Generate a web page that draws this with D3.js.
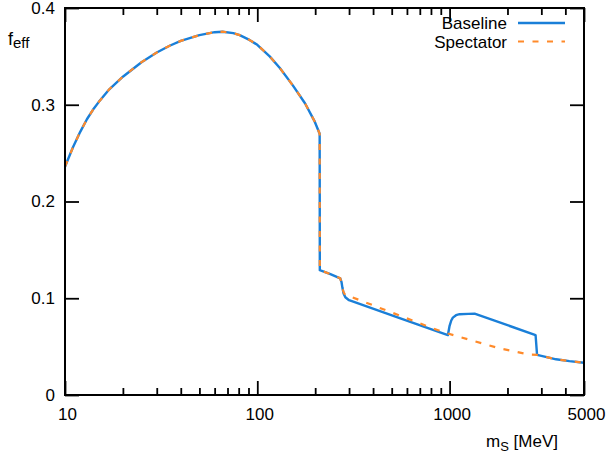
<!DOCTYPE html>
<html>
<head>
<meta charset="utf-8">
<script src="https://cdn.jsdelivr.net/npm/d3@7"></script>
<style>
  html, body { margin: 0; padding: 0; background: #fff; }
  svg { display: block; font-family: "Liberation Sans", Arial, Helvetica, sans-serif; }
</style>
</head>
<body>
<svg id="chart" width="608" height="458"></svg>
<script>
// ---- data ----
const baselineMass = [10, 11, 12, 13, 14, 15, 17, 20, 25, 30, 35, 40, 50, 60, 66, 75, 81, 91, 100, 116, 131, 153, 177, 199, 211, 211.4, 240, 270, 274, 277, 281, 287, 300, 550, 980, 1000, 1020, 1040, 1080, 1127, 1250, 1349, 2800, 2850, 3200, 3580, 4200, 5000];
const baselineFeff = [0.236, 0.256, 0.272, 0.285, 0.295, 0.303, 0.316, 0.329, 0.344, 0.354, 0.361, 0.366, 0.372, 0.375, 0.3755, 0.374, 0.372, 0.367, 0.362, 0.350, 0.338, 0.320, 0.3015, 0.2825, 0.270, 0.129, 0.125, 0.1206, 0.117, 0.111, 0.105, 0.101, 0.098, 0.0795, 0.062, 0.0715, 0.0770, 0.0800, 0.0825, 0.0835, 0.0838, 0.0840, 0.062, 0.0415, 0.0392, 0.0369, 0.0350, 0.0334];

const spectatorMass = [10, 11, 12, 13, 14, 15, 17, 20, 25, 30, 35, 40, 50, 60, 66, 75, 81, 91, 100, 116, 131, 153, 177, 199, 211, 211.4, 240, 270, 275, 280, 288, 310, 817, 980, 1820, 2604, 2850, 3200, 3580, 4200, 5000];
const spectatorFeff = [0.236, 0.256, 0.272, 0.285, 0.295, 0.303, 0.316, 0.329, 0.344, 0.354, 0.361, 0.366, 0.372, 0.375, 0.3755, 0.374, 0.372, 0.367, 0.362, 0.350, 0.338, 0.320, 0.3015, 0.2825, 0.270, 0.129, 0.125, 0.1206, 0.114, 0.107, 0.1025, 0.1012, 0.0689, 0.0635, 0.0482, 0.0418, 0.0415, 0.0392, 0.0369, 0.0350, 0.0334];

const seriesNames = ["Baseline", "Spectator"];
const xMajorTicks = [10, 100, 1000, 5000];
const xTickLabels = ["10", "100", "1000", "5000"];
const xMinorTicks = [20, 30, 40, 50, 60, 70, 80, 90, 200, 300, 400, 500, 600, 700, 800, 900, 2000, 3000, 4000];
const yTicks = [0, 0.1, 0.2, 0.3, 0.4];
const yTickLabels = ["0", "0.1", "0.2", "0.3", "0.4"];

// ---- layout ----
const svg = d3.select("#chart");
const L = 65, R = 584, T = 8, B = 395;
const blue = "#1a7fd8", orange = "#ff8a2a";

const x = d3.scaleLog().domain([10, 5000]).range([L, R]);
const y = d3.scaleLinear().domain([0, 0.4]).range([B, T]);

svg.append("defs").append("clipPath").attr("id", "clip")
  .append("rect").attr("x", L).attr("y", T).attr("width", R - L).attr("height", B - T);

const line = d3.line().x(d => x(d[0])).y(d => y(d[1]));
const baseData = baselineMass.map((m, i) => [m, baselineFeff[i]]);
const specData = spectatorMass.map((m, i) => [m, spectatorFeff[i]]);

const plot = svg.append("g").attr("clip-path", "url(#clip)");
plot.append("path").datum(baseData).attr("d", line)
  .attr("fill", "none").attr("stroke", blue).attr("stroke-width", 2.4)
  .attr("stroke-linejoin", "round");
plot.append("path").datum(specData).attr("d", line)
  .attr("fill", "none").attr("stroke", orange).attr("stroke-width", 2.2)
  .attr("stroke-dasharray", "6,8.5");

// ---- axes ----
function styleAxis(g) {
  g.select(".domain").remove();
  g.selectAll(".tick line").attr("stroke", "#000").attr("stroke-width", 1.8);
  g.selectAll(".tick text").attr("fill", "#000").attr("font-size", 17)
    .attr("font-family", "Liberation Sans, Arial, sans-serif");
}

svg.append("g").attr("transform", `translate(0,${B})`)
  .call(d3.axisBottom(x).tickValues(xMajorTicks).tickSize(-14).tickPadding(13)
    .tickFormat((d, i) => xTickLabels[i]))
  .call(styleAxis)
  .call(g => g.selectAll(".tick text").attr("dx", 2));
svg.append("g").attr("transform", `translate(0,${B})`)
  .call(d3.axisBottom(x).tickValues(xMinorTicks).tickSize(-7).tickFormat(""))
  .call(styleAxis);
svg.append("g").attr("transform", `translate(0,${T})`)
  .call(d3.axisTop(x).tickValues(xMajorTicks).tickSize(-14).tickFormat(""))
  .call(styleAxis);
svg.append("g").attr("transform", `translate(0,${T})`)
  .call(d3.axisTop(x).tickValues(xMinorTicks).tickSize(-7).tickFormat(""))
  .call(styleAxis);
svg.append("g").attr("transform", `translate(${L},0)`)
  .call(d3.axisLeft(y).tickValues(yTicks).tickSize(-14).tickPadding(10)
    .tickFormat((d, i) => yTickLabels[i]))
  .call(styleAxis);
svg.append("g").attr("transform", `translate(${R},0)`)
  .call(d3.axisRight(y).tickValues(yTicks).tickSize(-14).tickFormat(""))
  .call(styleAxis);

svg.append("rect").attr("x", L).attr("y", T).attr("width", R - L).attr("height", B - T)
  .attr("fill", "none").attr("stroke", "#000").attr("stroke-width", 2);

// ---- axis titles ----
const yl = svg.append("text").attr("x", 8).attr("y", 45).attr("font-size", 18).attr("fill", "#000");
yl.append("tspan").text("f");
yl.append("tspan").attr("dy", 3).attr("font-size", 15).text("eff");

const xl = svg.append("text").attr("x", 486).attr("y", 447).attr("font-size", 17).attr("fill", "#000");
xl.append("tspan").text("m");
xl.append("tspan").attr("dy", 4).attr("font-size", 13).text("S");
xl.append("tspan").attr("dy", -4).text(" [MeV]");

// ---- legend ----
const legend = svg.append("g");
const legY = [29, 47.5];
const legStyle = [{c: blue, w: 2.4, dash: null}, {c: orange, w: 2.2, dash: "6,8.5"}];
seriesNames.forEach((name, i) => {
  legend.append("text").attr("x", 507).attr("y", legY[i]).attr("text-anchor", "end")
    .attr("font-size", 17).attr("fill", "#000").text(name);
  const ln = legend.append("line").attr("x1", 518).attr("x2", 565)
    .attr("y1", legY[i] - 6).attr("y2", legY[i] - 6)
    .attr("stroke", legStyle[i].c).attr("stroke-width", legStyle[i].w);
  if (legStyle[i].dash) ln.attr("stroke-dasharray", legStyle[i].dash);
});
</script>
</body>
</html>
